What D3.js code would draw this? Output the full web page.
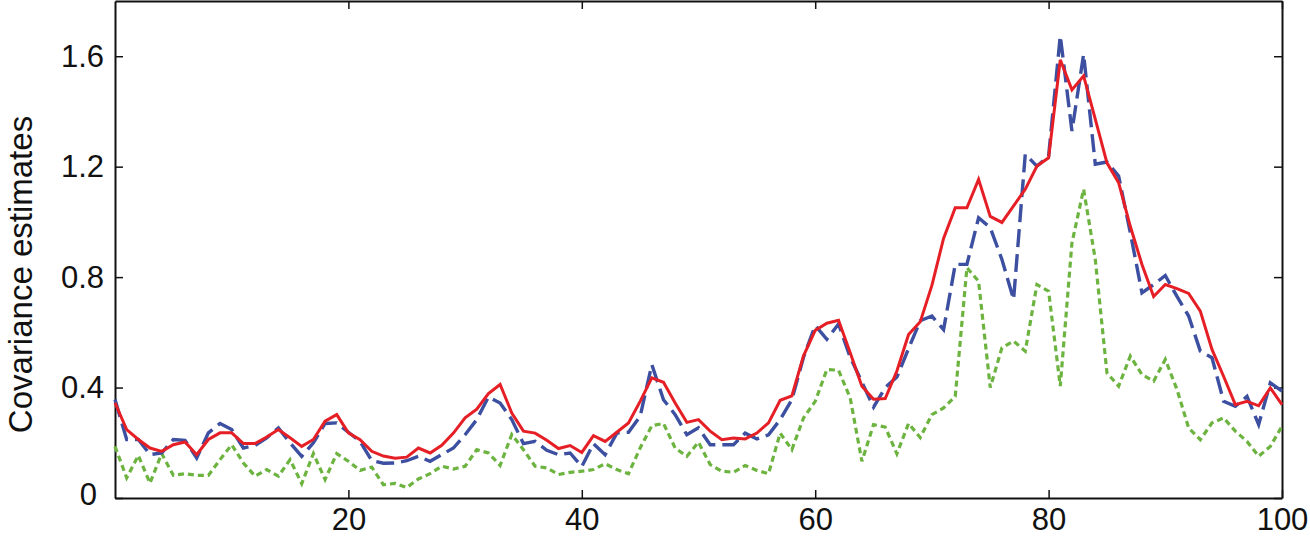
<!DOCTYPE html>
<html>
<head>
<meta charset="utf-8">
<title>Covariance estimates</title>
<script src="https://cdn.jsdelivr.net/npm/d3@7"></script>
<style>
  body { margin: 0; background: #fff; }
  svg text { font-family: "Liberation Sans", Arial, Helvetica, sans-serif; fill: #111; }
</style>
</head>
<body>
<script>
//Values, index 0..100
var xValues = d3.range(0, 101);
var redSeries = [0.345,0.248,0.212,0.181,0.169,0.193,0.203,0.157,0.212,0.236,
  0.236,0.197,0.197,0.221,0.248,0.218,0.187,0.212,0.278,0.302,
  0.236,0.211,0.169,0.152,0.144,0.148,0.181,0.163,0.191,0.235,
  0.29,0.322,0.378,0.411,0.308,0.242,0.235,0.209,0.179,0.19,
  0.165,0.226,0.205,0.238,0.272,0.35,0.435,0.419,0.344,0.274,
  0.284,0.242,0.211,0.217,0.214,0.235,0.272,0.354,0.37,0.515,
  0.607,0.633,0.644,0.526,0.405,0.358,0.36,0.46,0.592,0.638,
  0.77,0.94,1.051,1.051,1.154,1.02,0.998,1.058,1.118,1.202,
  1.232,1.587,1.478,1.529,1.372,1.214,1.142,0.984,0.846,0.73,
  0.773,0.758,0.741,0.677,0.538,0.44,0.338,0.35,0.334,0.399,0.338];
var blueSeries = [0.357,0.212,0.212,0.157,0.163,0.212,0.209,0.145,0.236,0.27,
  0.248,0.181,0.19,0.218,0.254,0.2,0.151,0.2,0.27,0.272,
  0.238,0.205,0.135,0.126,0.127,0.135,0.151,0.133,0.157,0.181,
  0.229,0.284,0.366,0.344,0.284,0.197,0.205,0.173,0.157,0.163,
  0.114,0.197,0.157,0.235,0.238,0.296,0.483,0.356,0.302,0.229,
  0.254,0.193,0.193,0.193,0.235,0.214,0.229,0.284,0.356,0.51,
  0.625,0.575,0.63,0.51,0.42,0.329,0.4,0.438,0.541,0.642,
  0.659,0.61,0.846,0.846,1.015,0.979,0.864,0.719,1.245,1.202,
  1.238,1.674,1.329,1.607,1.209,1.217,1.166,0.961,0.743,0.773,
  0.806,0.73,0.659,0.532,0.508,0.35,0.332,0.368,0.266,0.417,0.387];
var greenSeries = [0.187,0.073,0.154,0.054,0.161,0.082,0.088,0.082,0.082,0.139,
  0.193,0.127,0.079,0.103,0.079,0.139,0.052,0.161,0.067,0.161,
  0.133,0.1,0.112,0.048,0.053,0.038,0.069,0.088,0.115,0.105,
  0.115,0.175,0.163,0.118,0.23,0.175,0.115,0.109,0.085,0.093,
  0.097,0.103,0.124,0.103,0.088,0.181,0.262,0.27,0.181,0.151,
  0.202,0.121,0.097,0.093,0.118,0.1,0.088,0.235,0.175,0.29,
  0.35,0.465,0.463,0.362,0.133,0.266,0.257,0.16,0.27,0.219,
  0.302,0.326,0.368,0.834,0.785,0.4,0.544,0.568,0.532,0.773,
  0.749,0.405,0.924,1.118,0.864,0.453,0.405,0.514,0.447,0.423,
  0.502,0.393,0.254,0.211,0.272,0.29,0.242,0.205,0.151,0.187,0.26];
var xTicks = [20, 40, 60, 80, 100];
var yTicks = [0, 0.4, 0.8, 1.2, 1.6];
var yLabel = "Covariance estimates";

var svgwidth = 1310,
    svgheight = 539,
    margin = {top: 1, right: 28, bottom: 41, left: 115};

var svg = d3.select("body").append("svg")
    .attr("width", svgwidth)
    .attr("height", svgheight);

var width = svgwidth - margin.left - margin.right,
    height = svgheight - margin.top - margin.bottom;

var g = svg.append("g")
    .attr("transform", "translate(" + margin.left + "," + margin.top + ")");

//Scales
var x = d3.scaleLinear().domain([0, 100]).range([0, width]),
    y = d3.scaleLinear().domain([0, 1.8]).range([height, 0]);

var yFormat = function(d) { return d === 0 ? "0" : d.toFixed(1); };

//Axes, ticks pointing inward on all four sides
g.append("g")
    .attr("class", "axis")
    .attr("transform", "translate(0," + height + ")")
    .call(d3.axisBottom(x).tickValues(xTicks).tickSize(-8).tickSizeOuter(0).tickPadding(10));
g.append("g")
    .attr("class", "axis")
    .call(d3.axisTop(x).tickValues(xTicks).tickSize(-8).tickSizeOuter(0).tickFormat(""));
g.append("g")
    .attr("class", "axis")
    .call(d3.axisLeft(y).tickValues(yTicks).tickSize(-8).tickSizeOuter(0).tickPadding(11).tickFormat(yFormat));
g.append("g")
    .attr("class", "axis")
    .attr("transform", "translate(" + width + ",0)")
    .call(d3.axisRight(y).tickValues(yTicks).tickSize(-8).tickSizeOuter(0).tickFormat(""));

g.selectAll(".axis path").attr("stroke", "#111").attr("stroke-width", 2);
g.selectAll(".axis line").attr("stroke", "#111").attr("stroke-width", 1.5);
g.selectAll(".axis text")
    .attr("fill", "#111")
    .style("font-size", "31px");

//Zero label sits a bit lower and left in the original
g.selectAll(".axis .tick text")
    .filter(function(d) { return d === 0 && this.getAttribute("x") < 0; })
    .attr("x", -18)
    .attr("dy", "0.2em");

//Y axis title
svg.append("text")
    .attr("transform", "translate(32," + (margin.top + height / 2 + 25) + ") rotate(-90)")
    .attr("text-anchor", "middle")
    .style("font-size", "33px")
    .text(yLabel);

//Lines
var line = function(values) {
  return d3.line()
    .x(function(d, i) { return x(xValues[i]); })
    .y(function(d) { return y(d); })(values);
};

g.append("path")
    .attr("d", line(greenSeries))
    .attr("fill", "none")
    .attr("stroke", "#6cb33f")
    .attr("stroke-width", 3.2)
    .attr("stroke-dasharray", "6,4");

g.append("path")
    .attr("d", line(blueSeries))
    .attr("fill", "none")
    .attr("stroke", "#3c4fa0")
    .attr("stroke-width", 3.4)
    .attr("stroke-dasharray", "18,7");

g.append("path")
    .attr("d", line(redSeries))
    .attr("fill", "none")
    .attr("stroke", "#e51f25")
    .attr("stroke-width", 3)
    .attr("stroke-linejoin", "miter");
</script>
</body>
</html>
